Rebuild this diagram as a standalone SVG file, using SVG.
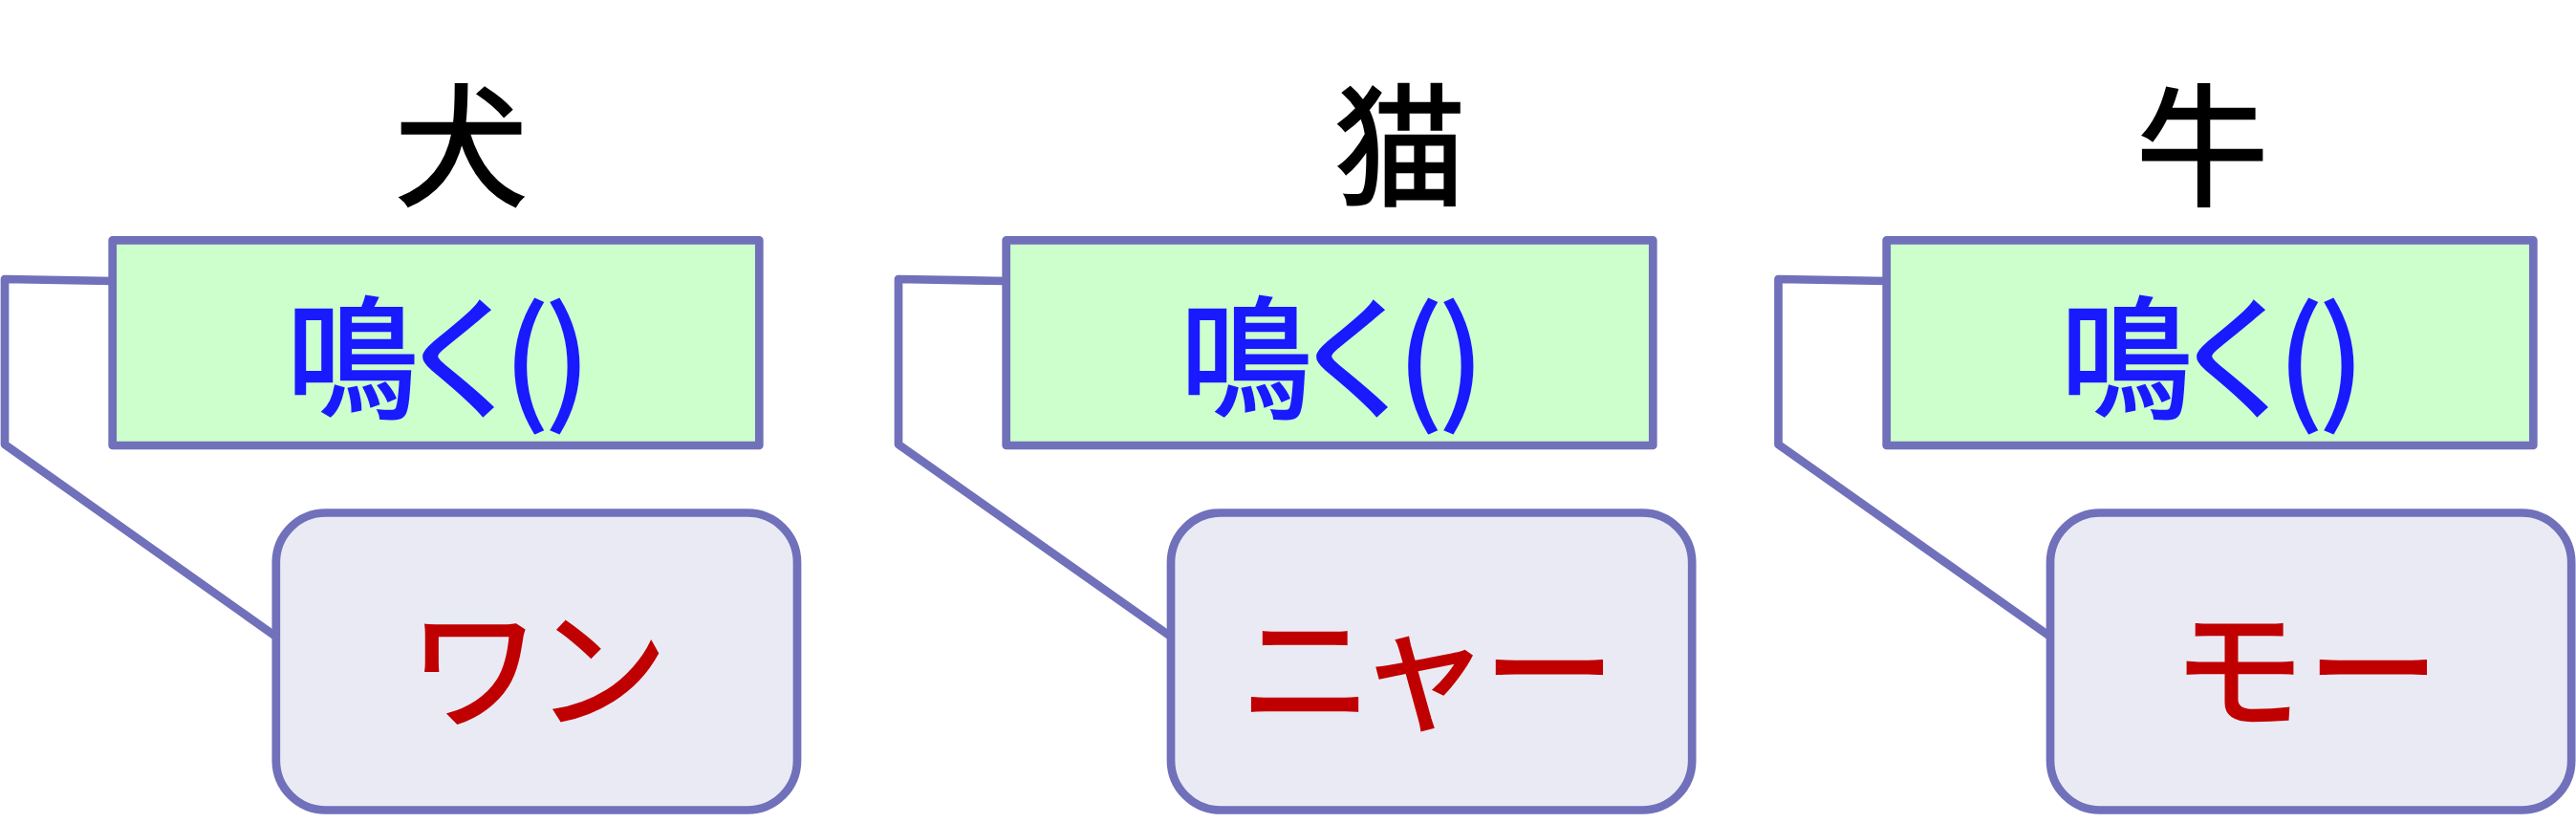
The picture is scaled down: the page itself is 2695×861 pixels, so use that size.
<svg xmlns="http://www.w3.org/2000/svg" width="2695" height="861" viewBox="0 0 2695 861">
<style>
text{font-family:"Noto Sans CJK JP","Noto Sans CJK SC",sans-serif;font-size:138px;text-anchor:middle}
.title{fill:#000000;stroke:#000000;stroke-width:2.5}
.call{fill:#1a1aff;stroke:#1a1aff;stroke-width:2.5}
.sound{fill:#c00000;stroke:#c00000;stroke-width:2.5}
.method{fill:#ccffcc;stroke:#7070bb;stroke-width:8.7;stroke-linejoin:round}
.note{fill:#eaeaf4;stroke:#7070bb;stroke-width:8.7}
.conn{fill:none;stroke:#7070bb;stroke-width:8.7;stroke-linejoin:round;stroke-linecap:butt}
</style>
<rect width="2695" height="861" fill="#ffffff"/>
<g id="connectors">
<polyline class="conn" points="117.7,294 5,292 5,465 288.8,666"/>
<polyline class="conn" points="1052.7,294 940,292 940,465 1225,666"/>
<polyline class="conn" points="1973.7,294 1860.5,292 1860.5,465 2145,666"/>
</g>
<g id="title-dog"><text class="title" x="482.5" y="204">犬</text></g>
<g id="title-cat"><text class="title" x="1465" y="204">猫</text></g>
<g id="title-cow"><text class="title" x="2304" y="204">牛</text></g>
<g id="method-dog">
<rect class="method" x="117.7" y="251.3" width="676.6" height="214.7"/>
<text class="call" x="368.4 484 550 594.5" y="426">鳴く()</text>
</g>
<g id="method-cat">
<rect class="method" x="1052.7" y="251.3" width="676.6" height="214.7"/>
<text class="call" x="1303.4 1419 1485 1529.5" y="426">鳴く()</text>
</g>
<g id="method-cow">
<rect class="method" x="1973.7" y="251.3" width="676.6" height="214.7"/>
<text class="call" x="2224.4 2340 2406 2450.5" y="426">鳴く()</text>
</g>
<g id="sound-dog">
<rect class="note" x="288.8" y="536.5" width="545.2" height="311" rx="52" ry="52"/>
<text class="sound" x="496.2 629.5" y="751">ワン</text>
</g>
<g id="sound-cat">
<rect class="note" x="1225" y="536.5" width="545.2" height="311" rx="52" ry="52"/>
<text class="sound" x="1366.5 1489 1621" y="751">ニャー</text>
</g>
<g id="sound-cow">
<rect class="note" x="2145" y="536.5" width="545.2" height="311" rx="52" ry="52"/>
<text class="sound" x="2342 2483" y="751">モー</text>
</g>
</svg>
